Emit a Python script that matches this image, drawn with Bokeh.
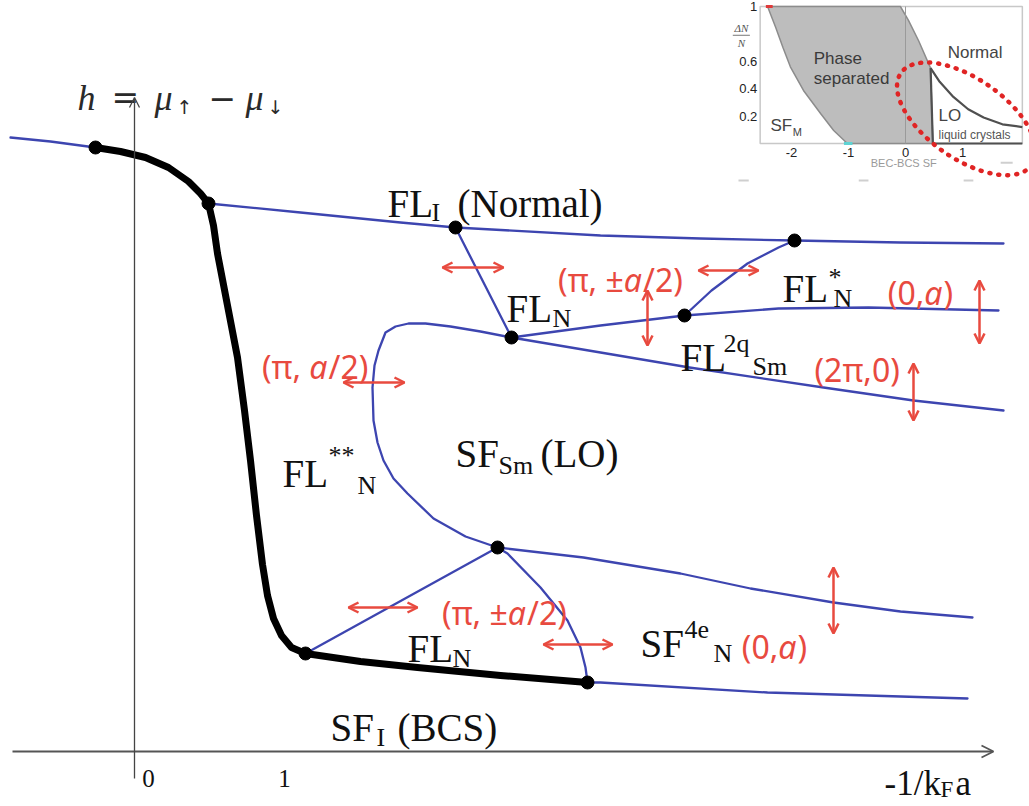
from bokeh.plotting import figure
from bokeh.models import Range1d, Arrow, OpenHead, ColumnDataSource
from bokeh.core.properties import value
from bokeh.embed import file_html
from bokeh.resources import INLINE

W, H = 1029, 806

# ---------------- main sketch data (sketch units, h grows upward) ----------------
first_order_x = [95, 120, 145, 168, 188, 200, 208, 213, 217, 227, 237, 244, 250, 256, 262, 267, 273, 281, 291, 305, 360, 417, 500, 587]
first_order_y = [147, 151, 157, 167, 181, 193, 203, 225, 253, 305, 357, 410, 460, 515, 564, 595, 618, 635, 647, 653, 661, 667, 675, 682]

left_stub_x = [10, 50, 95]
left_stub_y = [137, 141, 147]
normal_x = [208, 300, 400, 455, 600, 700, 794, 900, 1003]
normal_y = [203, 212, 222, 227, 235, 238, 240, 242, 243]
fln_up_x = [455, 511]
fln_up_y = [227, 337]
fl2q_x = [511, 600, 684, 778, 868, 998]
fl2q_y = [337, 325, 315, 308, 307, 310]
flstar_x = [684, 711, 747, 778, 794]
flstar_y = [315, 290, 263, 247, 240]
sm_upper_x = [511, 600, 689, 823, 913, 1003]
sm_upper_y = [337, 352, 367, 387, 400, 410]
lo_x = [511, 480, 450, 425, 408, 395, 385, 378, 374, 372, 373, 377, 383, 393, 407, 433, 465, 497]
lo_y = [337, 331, 326, 323, 323, 326, 332, 350, 365, 387, 420, 442, 460, 478, 493, 518, 536, 547]
sf4e_upper_x = [497, 583, 680, 750, 833, 900, 972]
sf4e_upper_y = [547, 557, 573, 588, 602, 611, 617]
fln_low_left_x = [305, 497]
fln_low_left_y = [653, 547]
fln_low_right_x = [497, 507, 540, 567, 580, 585, 587]
fln_low_right_y = [547, 553, 587, 620, 647, 667, 682]
sf4e_lower_x = [587, 600, 767, 967]
sf4e_lower_y = [682, 682, 692, 698]

crit_x = [95, 208, 455, 794, 684, 511, 497, 305, 587]
crit_y = [147, 203, 227, 240, 315, 337, 547, 653, 682]

harrow_x0 = [442, 698, 343, 348, 543]
harrow_x1 = [503, 758, 404, 417, 612]
harrow_y = [267, 270, 382, 607, 644]
varrow_x = [647, 979, 913, 833]
varrow_y0 = [290, 280, 363, 567]
varrow_y1 = [345, 343, 420, 633]

x_tick_pos = [148, 284]
x_tick_lab = ["0", "1"]

# ---------------- inset data (x: 1/k_F a, y: ΔN/N) ----------------
ps_x = [-2.42, -2.28, -2.15, -2.02, -1.79, -1.49, -1.26, -1.02, 0.48, 0.44, 0.23, 0.05, -0.09]
ps_y = [1.0, 0.85, 0.70, 0.56, 0.387, 0.219, 0.095, 0.0, 0.0, 0.55, 0.75, 0.9, 1.0]
lo_edge_x = [0.44, 0.48]
lo_edge_y = [0.55, 0.0]
lo_top_x = [0.44, 0.6, 0.84, 1.1, 1.37, 1.7, 2.05]
lo_top_y = [0.55, 0.45, 0.34, 0.25, 0.19, 0.14, 0.12]
lo_bot_x = [0.48, 2.05]
lo_bot_y = [0.0, 0.0]
inset_xticks = [-2, -1, 0, 1]
inset_yticks = [1, 0.6, 0.4, 0.2]
inset_ytick_lab = ["1", "0.6", "0.4", "0.2"]

# ---------------- figure ----------------
p = figure(width=W, height=H, x_range=Range1d(0, W), y_range=Range1d(H, 0),
           output_backend="svg", toolbar_location=None, min_border=0,
           x_axis_location=None, y_axis_location=None)
p.grid.visible = False
p.outline_line_color = None
p.background_fill_color = "white"
p.border_fill_color = "white"
p.extra_x_ranges = {"ix": Range1d(-905 / 57, (W - 905) / 57)}
p.extra_y_ranges = {"iy": Range1d(-(H - 143) / 137, 143 / 137)}
IN = dict(x_range_name="ix", y_range_name="iy")

BLUE = "#3d45b0"
RED = "#e84a3f"
INK = "#111111"


def put(x, y, s, size, font="Liberation Serif", color=INK, style="normal",
        align="left", baseline="alphabetic", inset=False):
    kw = IN if inset else {}
    p.text(x=[x], y=[y], text=[s], text_font=value(font), text_font_size=f"{size}px",
           text_color=color, text_font_style=style, text_align=align,
           text_baseline=baseline, **kw)


# axes of the sketch
AX_Y = 751
p.add_layout(Arrow(end=OpenHead(size=12, line_color="#555", line_width=1.8),
                   x_start=12, y_start=AX_Y, x_end=993, y_end=AX_Y,
                   line_color="#555", line_width=1.8))
p.add_layout(Arrow(end=OpenHead(size=10, line_color="#444", line_width=1.3),
                   x_start=134, y_start=778, x_end=134, y_end=97,
                   line_color="#444", line_width=1.3))

# blue boundaries
for xs, ys in [(left_stub_x, left_stub_y), (normal_x, normal_y), (fln_up_x, fln_up_y),
               (fl2q_x, fl2q_y), (flstar_x, flstar_y), (sm_upper_x, sm_upper_y),
               (lo_x, lo_y), (sf4e_upper_x, sf4e_upper_y), (fln_low_left_x, fln_low_left_y),
               (fln_low_right_x, fln_low_right_y), (sf4e_lower_x, sf4e_lower_y)]:
    p.line(xs, ys, line_color=BLUE, line_width=2.3, line_join="round", line_cap="round")

# first-order line
p.line(first_order_x, first_order_y, line_color="black", line_width=7,
       line_join="round", line_cap="round")
p.scatter(crit_x, crit_y, size=13, color="black")

# red double arrows
hs = ColumnDataSource(dict(x0=harrow_x0, x1=harrow_x1, y=harrow_y))
p.add_layout(Arrow(start=OpenHead(size=10, line_color=RED, line_width=2.5),
                   end=OpenHead(size=10, line_color=RED, line_width=2.5),
                   x_start="x0", y_start="y", x_end="x1", y_end="y", source=hs,
                   line_color=RED, line_width=2.5))
vs = ColumnDataSource(dict(x=varrow_x, y0=varrow_y0, y1=varrow_y1))
p.add_layout(Arrow(start=OpenHead(size=10, line_color=RED, line_width=2.5),
                   end=OpenHead(size=10, line_color=RED, line_width=2.5),
                   x_start="x", y_start="y0", x_end="x", y_end="y1", source=vs,
                   line_color=RED, line_width=2.5))

# tick labels and axis titles
for xt, lab in zip(x_tick_pos, x_tick_lab):
    put(xt, 778, lab, 25, align="center")
put(884, 783, "-1/k", 35)
put(940, 789, "F", 23)
put(955, 783, "a", 35)

HC = "#2a2a2a"
put(77, 97, "h", 36, color=HC, style="italic")
put(111, 97, "=", 33, font="DejaVu Serif", color=HC)
put(154, 97, "μ", 36, color=HC, style="italic")
put(176, 106, "↑", 19, font="DejaVu Sans", color=HC)
put(208, 97, "−", 33, font="DejaVu Serif", color=HC)
put(245, 97, "μ", 36, color=HC, style="italic")
put(267, 106, "↓", 19, font="DejaVu Sans", color=HC)

# phase labels: (text, x, baseline, kind)
MAIN, SUB = 39, 26
phase_labels = [
    [("FL", 387, 203, "m"), ("I", 431, 212, "s"), ("(Normal)", 457, 203, "m")],
    [("FL", 506, 308, "m"), ("N", 552, 318, "s")],
    [("FL", 782, 288, "m"), ("*", 828, 277, "s"), ("N", 833, 298, "s")],
    [("FL", 680, 357, "m"), ("2q", 723, 343, "s"), ("Sm", 752, 366, "s")],
    [("FL", 282, 473, "m"), ("**", 328, 455, "s"), ("N", 357, 485, "s")],
    [("SF", 455, 453, "m"), ("Sm", 498, 465, "s"), ("(LO)", 540, 453, "m")],
    [("FL", 407, 648, "m"), ("N", 452, 658, "s")],
    [("SF", 640, 643, "m"), ("4e", 684, 629, "s"), ("N", 713, 653, "s")],
    [("SF", 330, 727, "m"), ("I", 376, 737, "s"), ("(BCS)", 397, 727, "m")],
]
for segs in phase_labels:
    for s, x, y, k in segs:
        put(x, y, s, MAIN if k == "m" else SUB)

# red order-parameter labels (prefix, italic a, suffix)
NS_W = {"(": 0.296, ")": 0.296, "π": 0.68, ",": 0.25, " ": 0.3, "±": 0.64,
        "0": 0.572, "2": 0.572, "/": 0.4}
RS = 32
red_labels = [("(π, ±", "/2)", 554, 279), ("(0,", ")", 888, 292), ("(π, ", "/2)", 260, 366),
              ("(π, ±", "/2)", 438, 612), ("(0,", ")", 742, 646)]
for pre, post, x, y in red_labels:
    xa = x + sum(NS_W.get(c, 0.57) for c in pre) * RS
    put(xa, y, pre, RS, font="Noto Sans", color=RED, align="right")
    put(xa, y, "a", RS, font="Noto Sans", color=RED, style="italic")
    put(xa + 0.6 * RS, y, post, RS, font="Noto Sans", color=RED)
put(814, 369, "(2π,0)", RS, font="Noto Sans", color=RED)

# ---------------- inset ----------------
p.quad(left=[-2.55], right=[2.05], bottom=[0], top=[1.0], fill_color="white",
       line_color="#c8c8c8", line_width=1.5, **IN)
p.patch(ps_x, ps_y, fill_color="#bdbdbd", line_color="#8c8c8c", line_width=1.5, **IN)
p.line([0, 0], [0, 1], line_color="#9a9a9a", line_width=1, **IN)
for xs, ys in [(lo_edge_x, lo_edge_y), (lo_top_x, lo_top_y), (lo_bot_x, lo_bot_y)]:
    p.line(xs, ys, line_color="#505050", line_width=2.2, **IN)
p.line([-2.45, -2.33], [1.0, 1.0], line_color="#e03a3a", line_width=3, **IN)
p.line([-1.08, -0.93], [0.0, 0.0], line_color="#5fd3d3", line_width=3, **IN)
p.ellipse(x=[1.07], y=[0.18], width=[160 / 57], height=[80 / 137], angle=[-0.61],
          fill_color=None, line_color="#e02424", line_width=4.5, line_dash="1 8",
          line_cap="round", **IN)
for xd0, xd1, yd in [(-2.93, -2.75, -0.27), (-0.82, -0.65, -0.27), (1.02, 1.19, -0.27), (1.67, 1.88, -0.14)]:
    p.line([xd0, xd1], [yd, yd], line_color="#cfcfcf", line_width=2, **IN)

for yt, lab in zip(inset_yticks, inset_ytick_lab):
    put(-2.6, yt, lab, 13, font="Liberation Sans", color="#222", align="right",
        baseline="middle", inset=True)
for xt in inset_xticks:
    put(xt, -0.066, str(xt) if xt >= 0 else f"-{abs(xt)}", 13, font="Liberation Sans",
        color="#222", align="center", baseline="middle", inset=True)
put(-2.88, 0.84, "ΔN", 11, font="Liberation Serif", color="#555", style="italic",
    align="center", baseline="middle", inset=True)
p.line([-3.03, -2.73], [0.79, 0.79], line_color="#777", line_width=1, **IN)
put(-2.88, 0.73, "N", 11, font="Liberation Serif", color="#555", style="italic",
    align="center", baseline="middle", inset=True)
put(-1.61, 0.62, "Phase", 17, font="Liberation Sans", color="#3a3a3a", baseline="middle", inset=True)
put(-1.61, 0.474, "separated", 17, font="Liberation Sans", color="#3a3a3a", baseline="middle", inset=True)
put(0.74, 0.664, "Normal", 17, font="Liberation Sans", color="#444", baseline="middle", inset=True)
put(0.58, 0.204, "LO", 17, font="Liberation Sans", color="#444", baseline="middle", inset=True)
put(0.58, 0.06, "liquid crystals", 12, font="Liberation Sans", color="#555", baseline="middle", inset=True)
put(-2.37, 0.131, "SF", 17, font="Liberation Sans", color="#444", baseline="middle", inset=True)
put(-1.98, 0.085, "M", 11, font="Liberation Sans", color="#444", baseline="middle", inset=True)
put(-0.03, -0.139, "BEC-BCS SF", 11, font="Liberation Sans", color="#9a9a9a",
    align="center", baseline="middle", inset=True)

open("out.html", "w").write(file_html(p, INLINE))
